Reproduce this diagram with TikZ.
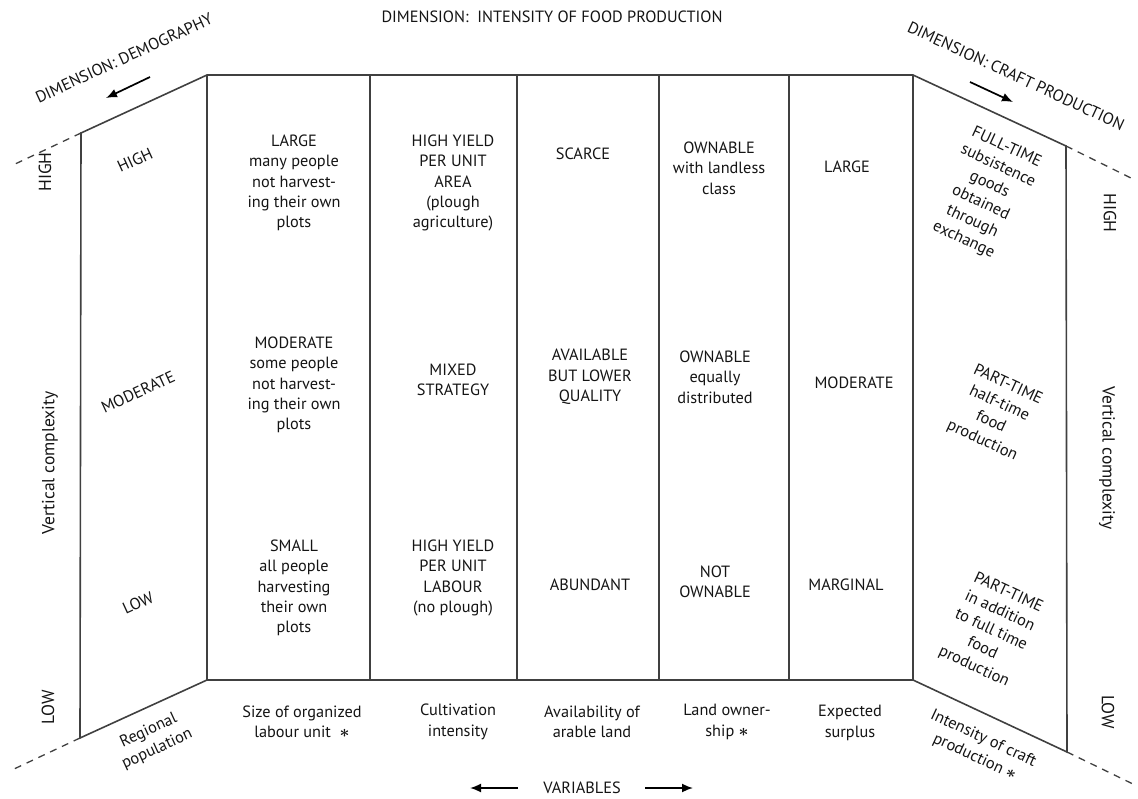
\documentclass[tikz,border=0pt]{standalone}
\usepackage{fontspec}
\setmainfont{PT Sans}
\usetikzlibrary{arrows.meta}
\newcommand{\flagstar}{{\fontsize{19}{19}\selectfont\boldmath$\ast$}}
\begin{document}
\begin{tikzpicture}[x=1pt,y=-1pt,
  frame/.style={line width=1.6pt,draw=black!75},
  ext/.style={line width=1.3pt,draw=black!75,dash pattern=on 7pt off 6pt},
  cell/.style={font=\fontsize{16.3}{20.4}\selectfont,align=center,text=black!92,inner sep=0pt},
  side/.style={font=\fontsize{17.5}{20}\selectfont,text=black!92,inner sep=0pt},
  dirarrow/.style={line width=1.7pt,draw=black,-{Latex[length=11pt,width=9pt]}},
  lslant/.style={cell,rotate=24.7},
  rslant/.style={cell,rotate=-24.9}]
\useasboundingbox (0,0) rectangle (1138,799);

% corners of the folded frame
\coordinate (tl) at (81,133);   \coordinate (bl) at (80,738);
\coordinate (c0t) at (207,75);  \coordinate (c0b) at (207,680);
\coordinate (c1t) at (370,75);  \coordinate (c1b) at (370,680);
\coordinate (c2t) at (517,75);  \coordinate (c2b) at (517,680);
\coordinate (c3t) at (659,75);  \coordinate (c3b) at (659,680);
\coordinate (c4t) at (789,75);  \coordinate (c4b) at (789,680);
\coordinate (c5t) at (913,75);  \coordinate (c5b) at (913,680);
\coordinate (tr) at (1066,146); \coordinate (br) at (1067,752);
% far ends of the dashed extensions
\coordinate (tlx) at (13,165);  \coordinate (blx) at (14,769);
\coordinate (trx) at (1135,180);\coordinate (brx) at (1135,785);

% frame
\draw[frame] (tl) -- (c0t) -- (c5t) -- (tr) -- (br) -- (c5b) -- (c0b) -- (bl) -- cycle;
\foreach \i in {0,...,5} \draw[frame] (c\i t) -- (c\i b);
\draw[ext] (tl) -- (tlx);
\draw[ext] (bl) -- (blx);
\draw[ext] (tr) -- (trx);
\draw[ext] (br) -- (brx);

% dimension headings
\node[cell] (dimfood) at (552,17) {DIMENSION:\ \ INTENSITY OF FOOD PRODUCTION};
\node[lslant] (dimdemo) at (124,58) {DIMENSION: DEMOGRAPHY};
\node[rslant] (dimcraft) at (1016,76) {DIMENSION: CRAFT PRODUCTION};
\coordinate (dda) at (150,77); \coordinate (ddb) at (106,98);
\draw[dirarrow] (dda) -- (ddb);
\coordinate (dca) at (970,82); \coordinate (dcb) at (1013,102);
\draw[dirarrow] (dca) -- (dcb);

% vertical axis labels
\node[side,rotate=90] (lhi) at (45,172) {HIGH};
\node[side,rotate=90] (lvc) at (50,463) {Vertical complexity};
\node[side,rotate=90] (llo) at (48,707) {LOW};
\node[side,rotate=-90] (rhi) at (1110,213) {HIGH};
\node[side,rotate=-90] (rvc) at (1107,458) {Vertical complexity};
\node[side,rotate=-90] (rlo) at (1108,712) {LOW};

% demography panel
\node[lslant] (pophi) at (135,160) {HIGH};
\node[lslant] (popmo) at (138,392) {MODERATE};
\node[lslant] (poplo) at (138,603) {LOW};
\node[lslant] (popv) at (153,740) {Regional\\population};

% labour unit
\node[cell] (labhi) at (294,183) {LARGE\\many people\\not harvest-\\ing their own\\plots};
\node[cell] (labmo) at (294,385) {MODERATE\\some people\\not harvest-\\ing their own\\plots};
\node[cell] (lablo) at (294,588) {SMALL\\all people\\harvesting\\their own\\plots};
\node[cell] (labv) at (302,722) {Size of organized\\labour unit\ \ \flagstar};

% cultivation intensity
\node[cell] (culhi) at (453,183) {HIGH YIELD\\PER UNIT\\AREA\\(plough\\agriculture)};
\node[cell] (culmo) at (453,380) {MIXED\\STRATEGY};
\node[cell] (cullo) at (453,578) {HIGH YIELD\\PER UNIT\\LABOUR\\(no plough)};
\node[cell] (culv) at (458,722) {Cultivation\\intensity};

% arable land
\node[cell] (arahi) at (583,154) {SCARCE};
\node[cell] (aramo) at (590,377) {AVAILABLE\\BUT LOWER\\QUALITY};
\node[cell] (aralo) at (590,585) {ABUNDANT};
\node[cell] (arav) at (592,722) {Availability of\\arable land};

% land ownership
\node[cell] (ownhi) at (719,168) {OWNABLE\\with landless\\class};
\node[cell] (ownmo) at (715,377) {OWNABLE\\equally\\distributed};
\node[cell] (ownlo) at (715,582) {NOT\\OWNABLE};
\node[cell] (ownv) at (727,722) {Land owner-\\ship \flagstar};

% surplus
\node[cell] (surhi) at (847,167) {LARGE};
\node[cell] (surmo) at (854,383) {MODERATE};
\node[cell] (surlo) at (846,585) {MARGINAL};
\node[cell] (surv) at (850,723) {Expected\\surplus};

% craft production panel
\node[rslant] (crahi) at (985,194) {FULL-TIME\\subsistence\\goods\\obtained\\through\\exchange};
\node[rslant] (cramo) at (995,413) {PART-TIME\\half-time\\food\\production};
\node[rslant] (cralo) at (991,630) {PART-TIME\\in addition\\to full time\\food\\production};
\node[rslant] (crav) at (979,748) {Intensity of craft\\production \flagstar};

% variables axis
\node[cell] (vars) at (582,788) {VARIABLES};
\coordinate (va1) at (518,788); \coordinate (va2) at (470,788);
\coordinate (vb1) at (645,788); \coordinate (vb2) at (693,788);
\draw[dirarrow] (va1) -- (va2);
\draw[dirarrow] (vb1) -- (vb2);
\end{tikzpicture}
\end{document}
